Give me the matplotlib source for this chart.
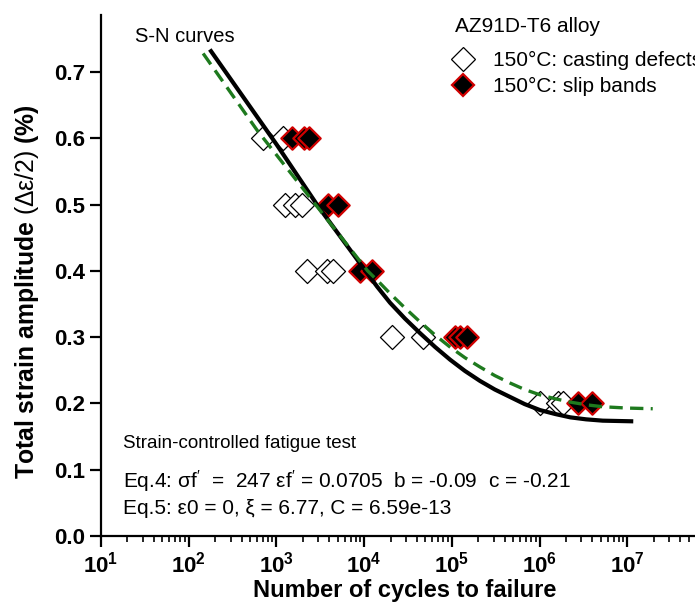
import matplotlib
matplotlib.use("Agg")
import matplotlib.pyplot as plt
from matplotlib.lines import Line2D
from matplotlib.ticker import LogLocator, FixedLocator

plt.rcParams['font.family'] = ['Liberation Sans', 'DejaVu Sans']
plt.rcParams['mathtext.fontset'] = 'custom'
plt.rcParams['mathtext.rm'] = 'Liberation Sans'
plt.rcParams['mathtext.it'] = 'Liberation Sans:italic'
plt.rcParams['mathtext.bf'] = 'Liberation Sans:bold'

# ---- data ----
casting_N = [700, 1190, 1250, 1630, 1950, 2240, 3780, 4420, 20800, 46800, 1.01e6, 1.62e6, 1.85e6]
casting_amp = [0.6, 0.6, 0.5, 0.5, 0.5, 0.4, 0.4, 0.4, 0.3, 0.3, 0.2, 0.2, 0.2]

slip_N = [1510, 2070, 2350, 3870, 5000, 8980, 12300, 110000, 124000, 147000, 2.75e6, 3.95e6]
slip_amp = [0.6, 0.6, 0.6, 0.5, 0.5, 0.4, 0.4, 0.3, 0.3, 0.3, 0.2, 0.2]

eq4_N = [174, 1000, 3000, 10230, 14100, 19700, 29200, 43400, 64600, 95500,
         141000, 209000, 309000, 457000, 676000, 1.01e6, 1.51e6, 2.24e6,
         3.39e6, 5.25e6, 1.17e7]
eq4_amp = [0.734, 0.591, 0.497, 0.401, 0.376, 0.352, 0.328, 0.306, 0.285, 0.266,
           0.249, 0.234, 0.221, 0.210, 0.199, 0.190, 0.184, 0.179,
           0.176, 0.174, 0.173]

eq5_N = [146, 603, 10960, 14800, 19700, 29200, 43400, 64600, 95500, 141000,
         209000, 309000, 457000, 676000, 1.01e6, 1.51e6, 2.24e6, 3.39e6,
         5.25e6, 1.0e7, 1.95e7]
eq5_amp = [0.728, 0.612, 0.400, 0.383, 0.366, 0.344, 0.323, 0.303, 0.285, 0.269,
           0.255, 0.242, 0.231, 0.221, 0.213, 0.207, 0.202, 0.198,
           0.195, 0.193, 0.192]

y_ticks = [0.0, 0.1, 0.2, 0.3, 0.4, 0.5, 0.6, 0.7]
x_decades = [1e1, 1e2, 1e3, 1e4, 1e5, 1e6, 1e7]
x_ticklabels = [r'$\mathbf{10^{%d}}$' % e for e in range(1, 8)]

fig = plt.figure(figsize=(6.95, 6.05), dpi=100)
ax = fig.add_axes([101/695, 69/605, 614/695, 521/605])

ax.scatter(casting_N, casting_amp, marker='D', s=150, facecolors='white',
           edgecolors='black', linewidths=0.9, zorder=2)
ax.scatter(slip_N, slip_amp, marker='D', s=130, facecolors='black',
           edgecolors='#d00000', linewidths=1.6, zorder=3)

ax.plot(eq4_N, eq4_amp, color='black', lw=3.0, zorder=4, solid_capstyle='butt')
ax.plot(eq5_N, eq5_amp, color='#1e7a1e', lw=2.4, ls=(0, (4.0, 2.2)), zorder=5)

ax.set_xscale('log')
ax.set_xlim(1e1, 1e8)
ax.set_ylim(0, 0.786)
ax.xaxis.set_major_locator(FixedLocator(x_decades + [1e8]))
ax.set_xticklabels(x_ticklabels + [''])
ax.xaxis.set_minor_locator(LogLocator(base=10, subs=range(2, 10), numticks=20))
ax.yaxis.set_major_locator(FixedLocator(y_ticks))
ax.set_yticklabels(['%.1f' % v for v in y_ticks])

for s in ['top', 'right']:
    ax.spines[s].set_visible(False)
for s in ['left', 'bottom']:
    ax.spines[s].set_linewidth(1.6)

ax.tick_params(axis='both', which='major', direction='out', length=8, width=1.6,
               labelsize=16)
ax.tick_params(axis='x', which='minor', direction='out', length=4, width=1.2)
ax.tick_params(axis='y', which='minor', left=False)
for lab in ax.get_yticklabels():
    lab.set_fontweight('bold')
ax.tick_params(axis='x', pad=3)

ax.set_xlabel('Number of cycles to failure', fontsize=17, fontweight='bold')
ax.xaxis.set_label_coords((405 - 101) / 614, -(590 - 536) / 521)
ax.set_ylabel(r'Total strain amplitude $\mathrm{(\Delta\varepsilon/2)}$ (%)',
              fontsize=17.8, fontweight='bold')
ax.yaxis.set_label_coords((27 - 101) / 614, (536 - 292) / 521)
ax.xaxis.label.set_va('center')
ax.yaxis.label.set_va('center')

ax.text(0.055, 0.958, 'S-N curves', transform=ax.transAxes, fontsize=14.5,
        va='center', ha='left')

ax.text(0.036, 0.178, 'Strain-controlled fatigue test', transform=ax.transAxes,
        fontsize=13.5, va='center', ha='left')
ax.text(0.036, 0.106,
        'Eq.4: σf$^{\\prime}$  =  247 εf$^{\\prime}$ = 0.0705  b = -0.09  c = -0.21',
        transform=ax.transAxes, fontsize=15, va='center', ha='left')
ax.text(0.036, 0.052, 'Eq.5: ε0 = 0, ξ = 6.77, C = 6.59e-13',
        transform=ax.transAxes, fontsize=15, va='center', ha='left')

fig.text(455/695, 1 - 26/605, 'AZ91D-T6 alloy', fontsize=15, va='center', ha='left')
handles = [
    Line2D([], [], ls='none', marker='D', markersize=12, markerfacecolor='white',
           markeredgecolor='black', markeredgewidth=0.9),
    Line2D([], [], ls='none', marker='D', markersize=11.5, markerfacecolor='black',
           markeredgecolor='#d00000', markeredgewidth=1.6),
]
leg = ax.legend(handles, ['150°C: casting defects', '150°C: slip bands'],
                fontsize=15, loc='upper left', bbox_to_anchor=(453/695, 1 - 51/605),
                bbox_transform=fig.transFigure, frameon=False, borderpad=0,
                handlelength=1.0, handletextpad=0.9, labelspacing=0.34,
                numpoints=1, borderaxespad=0)

fig.savefig('out.png', dpi=100)
